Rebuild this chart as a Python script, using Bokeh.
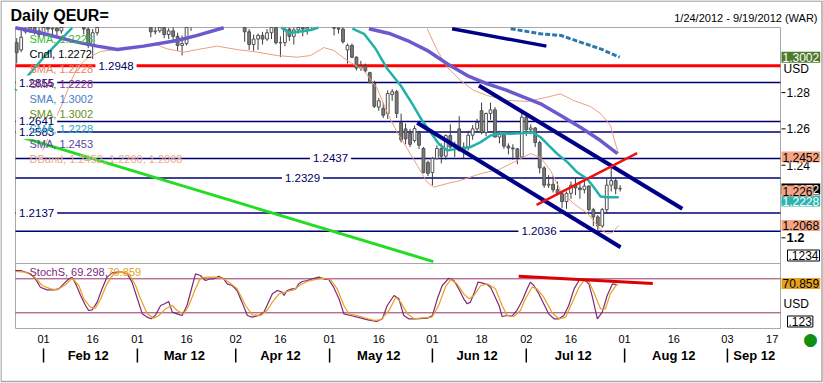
import numpy as np
import pandas as pd
from bokeh.plotting import figure
from bokeh.models import Range1d, Label
from bokeh.embed import file_html
from bokeh.resources import INLINE

nan = float("nan")
FONT = "Liberation Sans"

# ---------------- data ----------------
start_date, end_date = "2012-01-24", "2012-09-19"

open_ = [1.3075,1.3035,1.3135,1.3150,1.3215,1.3140,1.3120,1.3160,1.3150,1.3155,
         1.3140,1.3240,1.3270,1.3275,1.3195,1.3200,1.3150,1.3060,1.3130,1.3160,
         1.3255,1.3235,1.3230,1.3385,1.3450,1.3410,1.3465,1.3325,1.3320,1.3210,
         1.3205,1.3135,1.3140,1.3270,1.3120,1.3140,1.3110,1.3060,1.3070,1.3170,
         1.3235,1.3200,1.3220,1.3200,1.3270,1.3360,1.3365,1.3310,1.3300,1.3340,
         1.3325,1.3240,1.3135,1.3065,1.3095,1.3115,1.3095,1.3130,1.3160,1.3075,
         1.3075,1.3150,1.3110,1.3145,1.3220,1.3150,1.3170,1.3225,1.3230,1.3240,
         1.3235,1.3230,1.3155,1.3150,1.3035,1.3060,1.2995,1.2935,1.2945,1.2910,
         1.2850,1.2720,1.2712,1.2684,1.2790,1.2805,1.2635,1.2600,1.2575,1.2536,
         1.2575,1.2492,1.2415,1.2360,1.2437,1.2492,1.2450,1.2563,1.2500,1.2600,
         1.2480,1.2500,1.2565,1.2600,1.2700,1.2580,1.2685,1.2705,1.2555,1.2570,
         1.2505,1.2495,1.2490,1.2445,1.2665,1.2595,1.2605,1.2525,1.2385,1.2290,
         1.2295,1.2265,1.2245,1.2200,1.2245,1.2290,1.2275,1.2265,1.2285,1.2155,
         1.2115,1.2065,1.2155,1.2290,1.2315,1.2270]
high = [1.3100,1.3140,1.3180,1.3235,1.3220,1.3175,1.3200,1.3210,1.3190,1.3170,
        1.3250,1.3290,1.3320,1.3280,1.3270,1.3220,1.3190,1.3150,1.3200,1.3290,
        1.3290,1.3265,1.3390,1.3485,1.3460,1.3470,1.3485,1.3355,1.3325,1.3260,
        1.3210,1.3170,1.3285,1.3290,1.3155,1.3160,1.3130,1.3115,1.3180,1.3250,
        1.3250,1.3265,1.3240,1.3285,1.3370,1.3385,1.3370,1.3330,1.3385,1.3380,
        1.3360,1.3255,1.3150,1.3120,1.3125,1.3135,1.3150,1.3190,1.3210,1.3110,
        1.3160,1.3160,1.3160,1.3225,1.3225,1.3185,1.3240,1.3245,1.3265,1.3260,
        1.3285,1.3240,1.3180,1.3180,1.3070,1.3070,1.3000,1.2975,1.2960,1.2915,
        1.2865,1.2770,1.2745,1.2812,1.2820,1.2815,1.2684,1.2630,1.2600,1.2618,
        1.2590,1.2500,1.2425,1.2445,1.2510,1.2520,1.2570,1.2625,1.2530,1.2670,
        1.2525,1.2590,1.2620,1.2655,1.2745,1.2690,1.2745,1.2720,1.2590,1.2575,
        1.2520,1.2515,1.2495,1.2695,1.2690,1.2625,1.2610,1.2535,1.2395,1.2345,
        1.2340,1.2310,1.2250,1.2255,1.2310,1.2330,1.2310,1.2325,1.2290,1.2165,
        1.2125,1.2165,1.2325,1.2390,1.2335,1.2290]
low = [1.2960,1.3023,1.3125,1.3130,1.3120,1.3105,1.3110,1.3130,1.3115,1.3110,
       1.3125,1.3200,1.3200,1.3160,1.3180,1.3120,1.3045,1.2985,1.3115,1.3160,
       1.3190,1.3185,1.3225,1.3370,1.3350,1.3390,1.3315,1.3250,1.3195,1.3170,
       1.3105,1.3120,1.3130,1.3100,1.3095,1.3080,1.3030,1.3005,1.3060,1.3140,
       1.3170,1.3185,1.3160,1.3185,1.3255,1.3325,1.3285,1.3260,1.3290,1.3290,
       1.3230,1.3080,1.3035,1.3030,1.3035,1.3065,1.3085,1.3095,1.3065,1.2995,
       1.3055,1.3085,1.3065,1.3125,1.3110,1.3120,1.3150,1.3180,1.3160,1.3200,
       1.3190,1.3115,1.3125,1.3070,1.2960,1.2990,1.2922,1.2920,1.2910,1.2850,
       1.2715,1.2700,1.2660,1.2655,1.2755,1.2660,1.2525,1.2515,1.2500,1.2525,
       1.2490,1.2355,1.2340,1.2288,1.2430,1.2410,1.2430,1.2490,1.2445,1.2475,
       1.2440,1.2480,1.2540,1.2580,1.2570,1.2560,1.2650,1.2555,1.2520,1.2490,
       1.2460,1.2430,1.2405,1.2440,1.2560,1.2570,1.2500,1.2355,1.2275,1.2275,
       1.2250,1.2235,1.2165,1.2160,1.2215,1.2235,1.2215,1.2245,1.2145,1.2065,
       1.2040,1.2055,1.2135,1.2255,1.2240,1.2255]
close = [1.3020,1.3105,1.3150,1.3215,1.3140,1.3120,1.3160,1.3150,1.3155,1.3140,
         1.3240,1.3270,1.3275,1.3195,1.3200,1.3150,1.3060,1.3130,1.3160,1.3255,
         1.3235,1.3230,1.3385,1.3450,1.3410,1.3465,1.3325,1.3320,1.3210,1.3205,
         1.3135,1.3140,1.3270,1.3120,1.3140,1.3110,1.3060,1.3070,1.3170,1.3235,
         1.3200,1.3220,1.3200,1.3270,1.3360,1.3365,1.3310,1.3300,1.3340,1.3325,
         1.3240,1.3135,1.3065,1.3095,1.3115,1.3095,1.3130,1.3160,1.3075,1.3075,
         1.3150,1.3110,1.3145,1.3220,1.3150,1.3170,1.3225,1.3230,1.3240,1.3235,
         1.3230,1.3155,1.3150,1.3080,1.3060,1.2995,1.2935,1.2945,1.2920,1.2855,
         1.2725,1.2755,1.2675,1.2795,1.2805,1.2685,1.2540,1.2545,1.2515,1.2602,
         1.2510,1.2360,1.2355,1.2437,1.2492,1.2450,1.2563,1.2500,1.2515,1.2480,
         1.2500,1.2565,1.2600,1.2635,1.2580,1.2685,1.2705,1.2555,1.2570,1.2505,
         1.2495,1.2490,1.2445,1.2665,1.2595,1.2605,1.2525,1.2385,1.2290,1.2295,
         1.2265,1.2245,1.2200,1.2245,1.2290,1.2275,1.2265,1.2285,1.2155,1.2115,
         1.2065,1.2155,1.2290,1.2315,1.2270,1.2272]

# indicator lines (x = trading-day index, NaN = the line leaves the chart)
sma_fast_x = [-0.3, 6.1, 12.4, nan, 59.2, 61.0, 63.5, 65.8, 67.5, nan,
              75.1, 77.7, 80.3, 82.9, 85.9, 88.5, 90.7, 92.6, 94.4, 96.3,
              98.5, 101.5, 103.8, 106.0, 108.2, 110.5, 112.7, 115.3, 117.2, 119.0,
              120.9, 123.2, 125.4, 127.6, 129.1, 130.6, 132.1, 134.7]
sma_fast = [1.2812, 1.2996, 1.3157, nan, 1.3158, 1.3128, 1.3137, 1.3145, 1.3158, nan,
            1.3152, 1.3124, 1.3041, 1.2931, 1.2839, 1.2738, 1.2646, 1.2582, 1.2518, 1.2481,
            1.2490, 1.2499, 1.2527, 1.2564, 1.2576, 1.2573, 1.2576, 1.2582, 1.2554, 1.2509,
            1.2463, 1.2417, 1.2361, 1.2325, 1.2279, 1.2228, 1.2224, 1.2224]
sma_slow_x = [-0.3, 6.1, 13.5, 18.0, 22.5, 28.4, 35.9, 40.4, 46.3, nan,
              78.8, 83.6, 87.4, 91.8, 96.3, 100.8, 105.3, 109.7, 117.2, 121.7, 126.1, 130.6, 134.4]
sma_slow = [1.3157, 1.3124, 1.3078, 1.3056, 1.3037, 1.3056, 1.3087, 1.3115, 1.3157, nan,
            1.3152, 1.3124, 1.3087, 1.3033, 1.2959, 1.2894, 1.2848, 1.2812, 1.2738, 1.2674, 1.2609, 1.2536, 1.2464]
sma_long_x = [110.5, 117.2, 121.7, 126.1, 130.6, 134.9]
sma_long = [1.3152, 1.3124, 1.3115, 1.3078, 1.3041, 1.2995]
band_lo_x = [5.77,6.82,8.68,10.54,12.04,13.53,15.77,18.75,23.22,28.43,
             30.67,33.67,37.38,40.38,44.85,49.33,53.80,58.28,62.75,65.73,
             68.70,70.94,73.94,77.65,80.65,82.89,85.12,87.36,89.60,91.83,
             93.31,96.31,99.28,103.76,108.23,111.97,114.94,117.18,119.41,121.65,
             124.56,127.70,130.61,132.10,133.29,134.63]
band_lo = [1.2481,1.2536,1.2657,1.2757,1.2856,1.2938,1.2988,1.3027,1.3041,1.3060,
           1.3069,1.3041,1.3023,1.3037,1.3056,1.3037,1.3023,1.3004,1.2995,1.3004,
           1.3048,1.3032,1.2977,1.2922,1.2823,1.2690,1.2580,1.2492,1.2399,1.2306,
           1.2279,1.2299,1.2316,1.2353,1.2380,1.2426,1.2464,1.2442,1.2371,1.2261,
           1.2189,1.2134,1.2046,1.2024,1.2029,1.2067]
band_hi_x = [91.83,94.07,96.31,99.28,102.26,105.26,109.73,114.21,118.68,121.65,
             124.56,128.36,130.61,132.84,133.74,134.63]
band_hi = [1.3152,1.3033,1.2940,1.2867,1.2812,1.2784,1.2757,1.2751,1.2775,1.2793,
           1.2757,1.2723,1.2685,1.2619,1.2536,1.2465]

# trend lines drawn on the chart: ([x0, x1], [y0, y1])
trend_green = ([-0.27, 93.2], [1.2564, 1.1869])
trend_chan_lo = ([89.6, 135.1], [1.2634, 1.1948])
trend_chan_hi = ([103.4, 148.9], [1.2839, 1.2160])
trend_top = ([97.4, 118.5], [1.3152, 1.3056])
trend_red = ([116.3, 138.8], [1.2182, 1.2466])
trend_red_stoch = ([112.3, 142.3], [84.6, 71.7])

levels = [1.2948, 1.2855, 1.2641, 1.2583, 1.2437, 1.2329, 1.2137, 1.2036]
price_ticks = [1.22, 1.24, 1.26, 1.28]
stoch_levels = [80, 20]

stoch_k_x = [-0.3,0.9,3.1,4.2,5.3,6.8,8.3,9.4,10.5,11.7,
             12.4,13.2,14.3,15.4,16.1,16.9,18.0,19.1,20.2,21.4,
             22.5,23.6,24.7,25.8,27.0,28.1,29.2,30.1,31.1,32.2,
             33.1,34.0,34.8,35.9,37.0,38.1,39.3,40.0,41.1,42.2,
             43.4,44.1,45.2,46.3,47.1,48.2,49.3,50.4,51.6,52.7,
             54.2,55.3,56.0,57.2,58.3,59.4,59.8,60.5,61.6,62.4,
             63.1,63.9,65.0,66.1,67.6,69.1,69.8,70.9,72.1,73.2,
             74.7,76.2,77.7,79.1,80.6,81.8,82.9,84.4,85.5,86.6,
             87.7,89.2,91.9,93.0,94.1,95.2,96.7,97.8,98.9,100.0,
             100.8,101.5,102.4,103.2,104.1,105.3,106.0,106.7,107.9,108.6,
             109.7,110.8,111.9,113.1,114.2,114.9,115.7,116.8,117.9,119.0,
             120.2,121.3,122.4,123.5,124.7,125.8,126.9,128.0,128.8,129.9,
             131.0,132.1,133.3,134.4]
stoch_k = [94.6,94.6,88.8,79.9,65.2,60.5,60.5,62.3,71.1,80.0,
           82.9,71.1,50.5,32.9,24.1,25.3,38.8,62.3,82.9,90.5,
           91.7,91.7,88.8,74.1,44.7,18.2,12.3,9.4,16.4,32.9,
           35.9,40.0,21.1,18.2,15.3,32.9,68.2,88.8,85.8,77.0,
           80.0,80.0,84.6,80.0,71.1,68.2,59.4,38.8,15.3,12.3,
           15.3,21.1,32.9,53.5,59.4,56.4,50.5,59.4,62.3,62.3,
           71.1,75.2,77.0,80.0,82.9,78.8,78.8,65.2,44.7,18.2,
           15.3,12.3,9.4,6.5,4.7,9.4,32.9,50.5,44.7,15.3,
           9.4,9.4,10.6,15.3,44.7,68.2,81.1,77.0,62.3,44.7,
           35.9,38.8,56.4,74.1,72.9,69.4,65.2,53.5,32.9,13.5,
           15.3,14.0,24.1,41.7,62.3,74.1,68.2,53.5,35.9,18.2,
           9.4,9.4,15.3,32.9,62.3,77.0,78.8,71.1,47.6,9.4,
           21.1,50.5,71.1,69.3]
stoch_d_x = [-0.3,2.0,3.8,5.7,7.6,9.1,10.9,12.4,13.9,15.0,
             16.5,17.6,18.8,20.2,21.7,23.2,25.1,26.6,27.7,29.2,
             30.7,31.8,33.3,34.8,35.9,37.4,38.5,40.0,41.1,42.6,
             44.5,46.0,47.5,49.3,51.2,52.7,54.6,56.0,57.2,58.7,
             60.5,62.0,63.5,65.0,66.9,68.3,70.2,71.7,73.2,74.3,
             76.2,78.0,79.9,81.4,83.3,84.8,85.9,87.4,88.9,90.3,
             92.9,94.4,95.9,97.1,98.5,100.0,101.2,102.3,103.8,105.3,
             107.1,108.6,109.7,111.2,112.7,113.8,115.3,116.4,117.9,119.8,
             121.3,122.8,124.3,125.8,126.9,128.0,129.1,130.6,131.7,132.8,
             134.3]
stoch_d = [92.9,91.7,84.6,68.2,62.3,60.5,69.4,81.1,68.2,44.7,
           30.0,28.2,44.7,71.1,88.8,91.7,88.8,68.2,44.7,18.2,
           10.6,15.3,27.0,32.9,24.1,18.2,32.9,62.3,81.1,82.9,
           82.9,81.1,74.1,62.3,32.9,16.4,15.3,24.1,38.8,53.5,
           57.6,60.5,69.4,75.2,78.8,81.1,78.8,62.3,32.9,18.2,
           15.3,10.6,6.5,7.6,24.1,47.6,38.8,18.2,9.4,10.6,
           12.3,32.9,65.2,78.8,71.1,53.5,44.7,50.5,68.2,71.1,
           62.3,32.9,15.3,13.5,24.1,44.7,65.2,62.3,47.6,20.0,
           9.4,12.3,38.8,65.2,77.0,75.2,56.4,27.0,27.0,53.5,
           70.9]

day_ticks = ["2012-02-01", "2012-02-16", "2012-03-01", "2012-03-16", "2012-04-02",
             "2012-04-16", "2012-05-01", "2012-05-16", "2012-06-01", "2012-06-18",
             "2012-07-02", "2012-07-16", "2012-08-01", "2012-08-16", "2012-09-03",
             "2012-09-17"]
month_labels = {"2012-02": "Feb 12", "2012-03": "Mar 12", "2012-04": "Apr 12", "2012-05": "May 12",
                "2012-06": "Jun 12", "2012-07": "Jul 12", "2012-08": "Aug 12", "2012-09": "Sep 12"}

legend_rows = [("SMA, 1.2228", "#33BB33"), ("Cndl, 1.2272", "#000000"),
               ("SMA, 1.2228", "#F08060"), ("SMA, 1.2228", "#883388"),
               ("SMA, 1.3002", "#4A7CC4"), ("SMA, 1.3002", "#6B8E23"),
               ("SMA, 1.2228", "#30A8C8"), ("SMA, 1.2453", "#5A4A9E"),
               ("DBand, 1.2452, 1.2260, 1.2068", "#F0A888")]

# ---------------- pixel layout helpers (page pixels -> data units) ----------------
PX_X0, PX_PER_DAY = 16.2, 4.47
PX_Y12, PX_PER_UNIT = 237.3, 1815.0
PX_S80, PX_PER_S = 278.3, 0.5667
def xd(px): return (px - PX_X0) / PX_PER_DAY
def yd(py): return 1.2 + (PX_Y12 - py) / PX_PER_UNIT
def sd(py): return 80 - (py - PX_S80) / PX_PER_S

W, H = 823, 383
L_PX, R_PX, T_PX, M_PX, B_PX = 15, 780, 27, 263, 328   # panel edges

dates = pd.bdate_range(start_date, end_date)
pos = {d.strftime("%Y-%m-%d"): i for i, d in enumerate(dates)}

p = figure(width=W, height=H, x_range=Range1d(xd(0), xd(W)), y_range=Range1d(yd(H), yd(0)),
           output_backend="svg", toolbar_location=None, title=None,
           x_axis_location=None, y_axis_location=None, min_border=0,
           min_border_left=0, min_border_right=0, min_border_top=0, min_border_bottom=0)
p.extra_y_ranges = {"stoch": Range1d(sd(H), sd(0))}
p.grid.visible = False
p.outline_line_color = None
p.background_fill_color = "white"
p.border_fill_color = "white"

xl, xr = xd(L_PX), xd(R_PX)
ytop, ymid = yd(T_PX), yd(M_PX)

# outer picture border and panel frames
p.quad(left=xd(0.5), right=xd(W - 1.5), top=yd(0.5), bottom=yd(H - 2), fill_color=None,
       line_color="#A8A8A8", line_width=1.5)
p.quad(left=xl, right=xr, top=ytop, bottom=ymid, fill_color=None, line_color="#A8A8A8", line_width=1)
p.quad(left=xl, right=xr, top=sd(M_PX), bottom=sd(B_PX), fill_color=None, line_color="#A8A8A8",
       line_width=1, y_range_name="stoch")

# horizontal levels
p.segment(x0=xl, x1=xr, y0=levels, y1=levels,
          line_color=["#FF0000"] + ["#000070"] * (len(levels) - 1),
          line_width=[3] + [1.5] * (len(levels) - 1))
p.segment(x0=xl, x1=xr, y0=stoch_levels, y1=stoch_levels, line_color="#993366",
          line_width=1, y_range_name="stoch")

# candles (cut at the top edge of the price panel)
idx = np.arange(len(close))
o, h, l, c = map(np.array, (open_, high, low, close))
vis = l < ytop
p.segment(x0=idx[vis], y0=np.minimum(h, ytop)[vis], x1=idx[vis], y1=l[vis],
          line_color="#3c3c3c", line_width=1)
btop = np.minimum(np.maximum(o, c), ytop)
bbot = np.minimum(o, c)
up = (c >= o) & (bbot < ytop)
dn = (c < o) & (bbot < ytop)
p.vbar(x=idx[up], width=0.62, top=btop[up], bottom=bbot[up], fill_color="white",
       line_color="#505050", line_width=1)
p.vbar(x=idx[dn], width=0.62, top=btop[dn], bottom=bbot[dn], fill_color="#7a7a7a",
       line_color="#505050", line_width=1)

# indicators
p.line(band_lo_x, band_lo, line_color="#E8A080", line_width=1)
p.line(band_hi_x, band_hi, line_color="#E8A080", line_width=1)
p.line(sma_fast_x, sma_fast, line_color="#20B2AA", line_width=2.5)
p.line(sma_slow_x, sma_slow, line_color="#6A5ACD", line_width=3.5)
p.line(sma_long_x, sma_long, line_color="#2D78A8", line_width=3, line_dash="5 2")

# trend lines
p.line(*trend_green, line_color="#22DD22", line_width=3)
p.line(*trend_chan_lo, line_color="#000088", line_width=4)
p.line(*trend_chan_hi, line_color="#000088", line_width=4)
p.line(*trend_top, line_color="#000088", line_width=3.5)
p.line(*trend_red, line_color="#EE1111", line_width=2.5)

# stochastic
p.line(stoch_k_x, stoch_k, line_color="#7A2A7A", line_width=1.2, y_range_name="stoch")
p.line(stoch_d_x, stoch_d, line_color="#E8A020", line_width=1.2, y_range_name="stoch")
p.line(*trend_red_stoch, line_color="#DD0000", line_width=3, y_range_name="stoch")


def lab(px, y, text, size="12px", color="black", align="left", bold=False,
        bg=None, border=None, font=FONT, pad=0, rng="default"):
    p.add_layout(Label(x=xd(px), y=y, text=text, text_font=font, text_font_size=size,
                       text_color=color, text_align=align, text_baseline="middle",
                       text_font_style="bold" if bold else "normal", y_range_name=rng,
                       background_fill_color=bg, border_line_color=border, padding=pad))

# right price scale: tick marks + labels
p.segment(x0=xd(R_PX + 1), x1=xd(R_PX + 5), y0=price_ticks + [1.2], y1=price_ticks + [1.2],
          line_color="black", line_width=1)
for t in price_ticks:
    lab(R_PX + 6, t, f"{t:.2f}")

# level labels
level_label_px = [(115.5, "center"), (15.5, "left"), (15.5, "left"), (15.5, "left"),
                  (330, "center"), (302, "center"), (15.5, "left"), (538.5, "center")]
for lv, (px, al) in zip(levels, level_label_px):
    lab(px, lv, f"{lv:.4f}", size="11.5px", color="#000060", align=al, bg="white", pad=3)

# legend texts
for k, (txt, col) in enumerate(legend_rows):
    lab(29, yd(38 + 15.1 * k), txt, size="11px", color=col)

# title and period
lab(10, yd(14.5), "Daily QEUR=", size="16px", bold=True)
lab(817, yd(17), "1/24/2012 - 9/19/2012 (WAR)", size="11px", align="right")

# right-hand value boxes
lab(781, yd(56.7), "1.3002", color="white", bg="#4E7A2A", pad=1)
lab(783, yd(68.5), "USD")
lab(781, yd(156.5), "1.2452", bg="#F4A585", pad=1)
lab(781, yd(188.5), "1.2272", color="white", bg="black", pad=1)
lab(781, yd(200.5), "1.2228", color="white", bg="#2EB5B0", pad=1)
lab(781, yd(190.5), "1.226", bg="#F4A585", pad=1)
lab(781, yd(225), "1.2068", bg="#F4A585", pad=1)
lab(786, 1.2, "1.2", size="13px", bold=True)
lab(787, yd(255), ".1234", bg="white", border="black", pad=1)

# stochastic texts
lab(29, sd(271), "StochS, 69.298,", size="11px", color="#7A2A7A", rng="stoch")
lab(107, sd(271), "70.859", size="11px", color="#E8A020", rng="stoch")
lab(781, sd(283), "70.859", bg="#E8A020", pad=1, rng="stoch")
lab(783, sd(303), "USD", rng="stoch")
lab(787, sd(321), ".123", bg="white", border="black", pad=1, rng="stoch")
lab(810, sd(338), "\u25cf", size="17px", color="#109010", align="center", font="DejaVu Sans", rng="stoch")

# time axis: day numbers, month names and month separators
for d in day_ticks:
    lab(PX_X0 + PX_PER_DAY * pos[d], sd(338), d[-2:], size="11px", align="center", rng="stoch")
sep_x = []
for key, name in month_labels.items():
    ids = [i for i, d in enumerate(dates) if d.strftime("%Y-%m") == key]
    sep_x.append(ids[0])
    lab(PX_X0 + PX_PER_DAY * float(np.mean(ids)), sd(354.5), name, size="13px", bold=True,
        align="center", rng="stoch")
p.segment(x0=sep_x, x1=sep_x, y0=sd(348), y1=sd(362), line_color="black", line_width=1.5,
          y_range_name="stoch")

open("out.html", "w").write(file_html(p, INLINE))
